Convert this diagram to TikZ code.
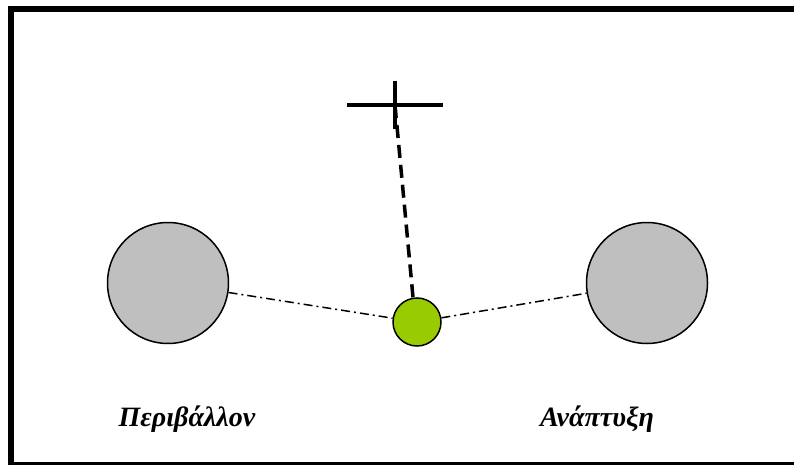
\documentclass[tikz,border=0pt]{standalone}
\usepackage{fontspec}
\setmainfont{Liberation Serif}
\usetikzlibrary{positioning}

\begin{document}
\begin{tikzpicture}[x=1pt, y=-1pt,
            every node/.style={inner sep=0pt},
            field/.style = {draw, circle, line width=1.5pt, fill=gray!50, minimum size=121pt},
            agent/.style = {draw, circle, line width=1.5pt, fill={rgb,255:red,153;green,204;blue,0}, minimum size=48pt},
            tie/.style = {line width=1.5pt, dash pattern=on 9pt off 4pt on 2pt off 4pt},
            label/.style = {font=\fontsize{28}{32}\selectfont\bfseries\itshape},
            ]
            \useasboundingbox (0,0) rectangle (794,465);
            \clip (0,0) rectangle (794,465);
            % frame, its right side lies outside the picture
            \draw[line width=6pt] (11,9) -- (1000,9);
            \draw[line width=6pt] (11,6) -- (11,467);
            \draw[line width=3pt] (11,463.5) -- (1000,463.5);

            \node[field] (env) at (168,283) {};
            \node[field] (dev) at (647,283) {};
            \node[agent] (pos) at (417,322) {};

            % target cross
            \coordinate (goal) at (395,105);
            \draw[line width=4pt] (347,105) -- (443,105);
            \draw[line width=4pt] (395,81) -- (395,129);

            \draw[line width=3.5pt, dash pattern=on 13pt off 7pt] (pos.north) ++(-4pt,0) -- (goal);
            \draw[tie] (env) -- (pos);
            \draw[tie] (pos) -- (dev);

            \node[label] (envtext) at (187,419) {Περιβάλλον};
            \node[label] (devtext) at (597,419) {Ανάπτυξη};
\end{tikzpicture}
\end{document}
